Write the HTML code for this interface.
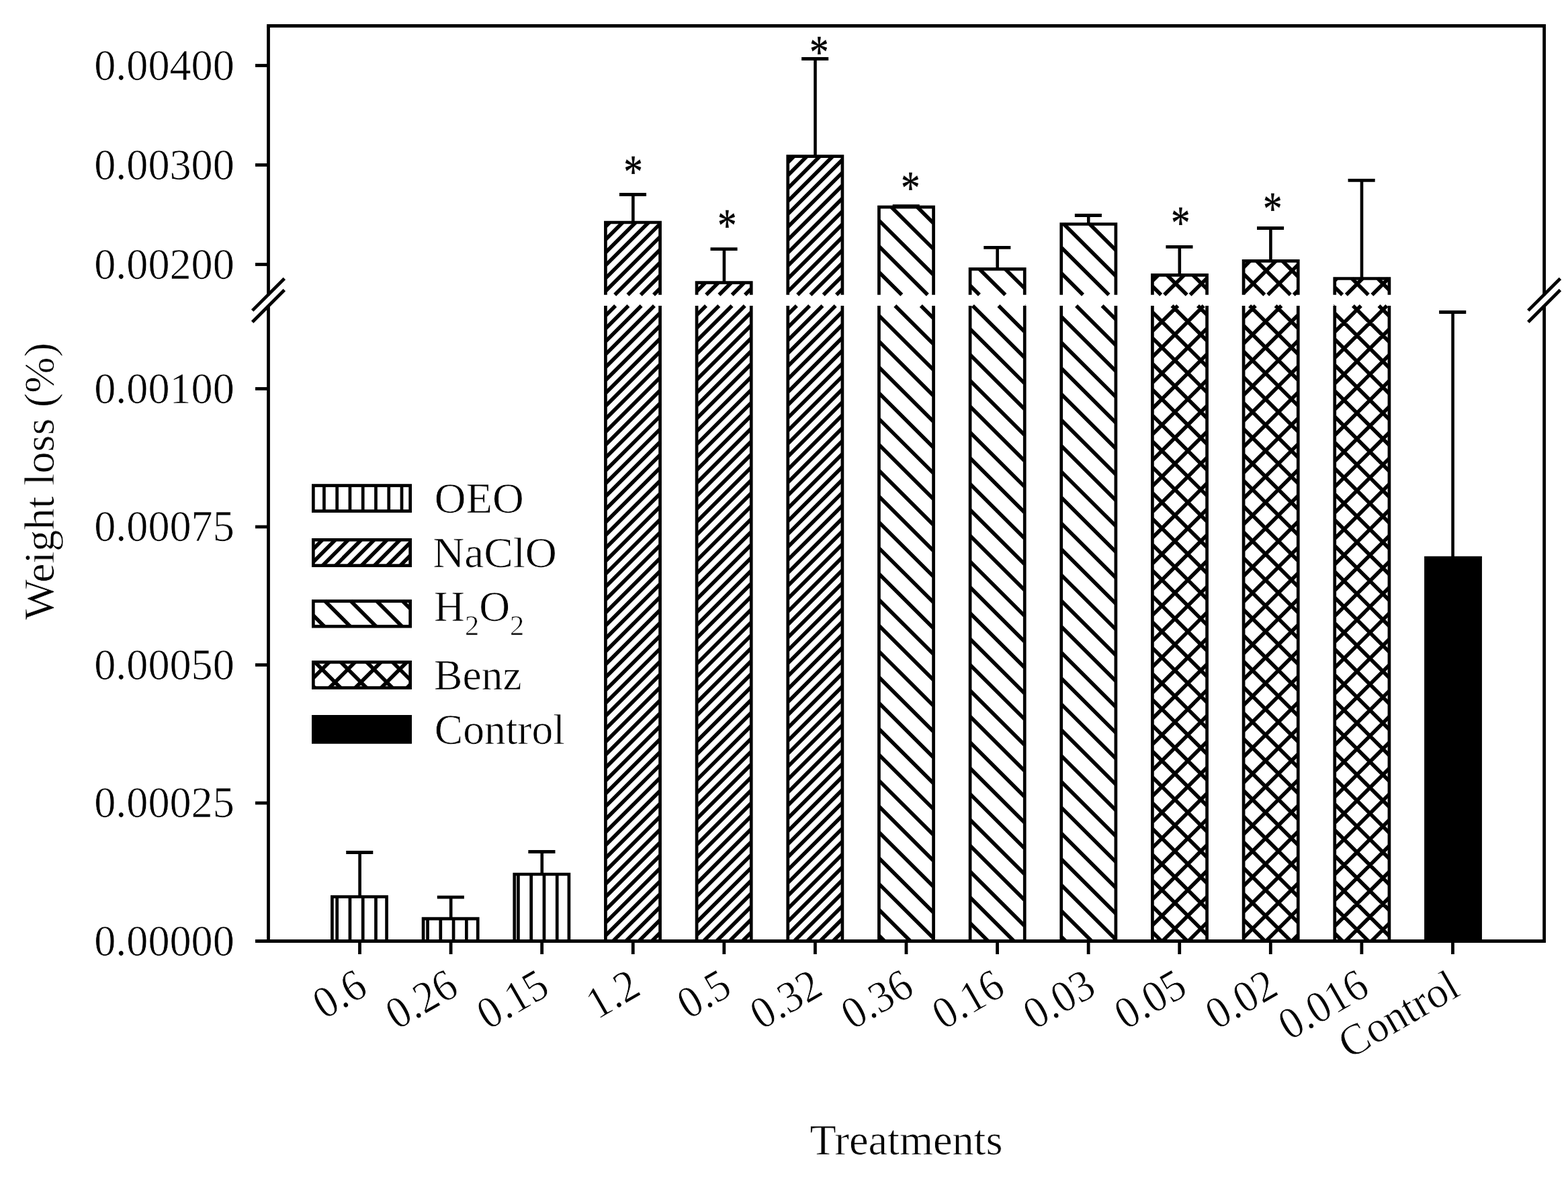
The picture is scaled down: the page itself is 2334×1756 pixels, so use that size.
<!DOCTYPE html>
<html lang="en"><head><meta charset="utf-8"><title>Weight loss (%) by treatment</title>
<style>html,body{margin:0;padding:0;background:#fff}body{width:2334px;height:1756px;overflow:hidden}svg{display:block}text{font-family:'Liberation Serif', 'Times New Roman', Times, serif;fill:#000;stroke:#fff;stroke-width:0.7px}</style>
</head><body>
<svg width="2334" height="1756" viewBox="0 0 2334 1756" role="img" aria-label="Bar chart of weight loss (%) by treatment">
<rect x="0" y="0" width="2334" height="1756" fill="#fff"/>
<g id="bars">
<path d="M501.67 1334.5L501.67 1400.5M520.93 1334.5L520.93 1400.5M540.2 1334.5L540.2 1400.5M559.47 1334.5L559.47 1400.5" fill="none" stroke="#000" stroke-width="4.7" stroke-linecap="butt"/>
<path d="M494.4 1400.5V1334.5H575.56V1400.5" fill="none" stroke="#000" stroke-width="4.7" stroke-linejoin="miter"/>
<path d="M535.6 1334.5V1268.5" fill="none" stroke="#000" stroke-width="4.6"/><path d="M515.2 1268.5H555.3" fill="none" stroke="#000" stroke-width="4.8"/>
<path d="M636.54 1367.2L636.54 1400.5M655.8 1367.2L655.8 1400.5M675.07 1367.2L675.07 1400.5M694.34 1367.2L694.34 1400.5" fill="none" stroke="#000" stroke-width="4.7" stroke-linecap="butt"/>
<path d="M630.07 1400.5V1367.2H711.23V1400.5" fill="none" stroke="#000" stroke-width="4.7" stroke-linejoin="miter"/>
<path d="M671.18 1367.2V1335.2" fill="none" stroke="#000" stroke-width="4.6"/><path d="M650.78 1335.2H690.88" fill="none" stroke="#000" stroke-width="4.8"/>
<path d="M771.4 1301L771.4 1400.5M790.67 1301L790.67 1400.5M809.94 1301L809.94 1400.5M829.21 1301L829.21 1400.5" fill="none" stroke="#000" stroke-width="4.7" stroke-linecap="butt"/>
<path d="M765.74 1400.5V1301H846.9V1400.5" fill="none" stroke="#000" stroke-width="4.7" stroke-linejoin="miter"/>
<path d="M806.76 1301V1267.5" fill="none" stroke="#000" stroke-width="4.6"/><path d="M786.36 1267.5H826.46" fill="none" stroke="#000" stroke-width="4.8"/>
<path d="M901.4 469.69L916.13 455M901.4 488.91L935.4 455M901.4 508.13L954.66 455M901.4 527.36L973.93 455M901.4 546.58L982.56 465.61M901.4 565.8L982.56 484.83M901.4 585.02L982.56 504.05M901.4 604.24L982.56 523.27M901.4 623.47L982.56 542.5M901.4 642.69L982.56 561.72M901.4 661.91L982.56 580.94M901.4 681.13L982.56 600.16M901.4 700.35L982.56 619.38M901.4 719.58L982.56 638.61M901.4 738.8L982.56 657.83M901.4 758.02L982.56 677.05M901.4 777.24L982.56 696.27M901.4 796.46L982.56 715.49M901.4 815.69L982.56 734.72M901.4 834.91L982.56 753.94M901.4 854.13L982.56 773.16M901.4 873.35L982.56 792.38M901.4 892.57L982.56 811.6M901.4 911.8L982.56 830.83M901.4 931.02L982.56 850.05M901.4 950.24L982.56 869.27M901.4 969.46L982.56 888.49M901.4 988.68L982.56 907.71M901.4 1007.91L982.56 926.94M901.4 1027.13L982.56 946.16M901.4 1046.35L982.56 965.38M901.4 1065.57L982.56 984.6M901.4 1084.79L982.56 1003.82M901.4 1104.02L982.56 1023.05M901.4 1123.24L982.56 1042.27M901.4 1142.46L982.56 1061.49M901.4 1161.68L982.56 1080.71M901.4 1180.9L982.56 1099.93M901.4 1200.13L982.56 1119.16M901.4 1219.35L982.56 1138.38M901.4 1238.57L982.56 1157.6M901.4 1257.79L982.56 1176.82M901.4 1277.01L982.56 1196.04M901.4 1296.24L982.56 1215.27M901.4 1315.46L982.56 1234.49M901.4 1334.68L982.56 1253.71M901.4 1353.9L982.56 1272.93M901.4 1373.12L982.56 1292.15M901.4 1392.35L982.56 1311.38M912.5 1400.5L982.56 1330.6M931.76 1400.5L982.56 1349.82M951.03 1400.5L982.56 1369.04M970.3 1400.5L982.56 1388.26" fill="none" stroke="#000" stroke-width="5.6" stroke-linecap="butt"/>
<path d="M901.4 337.22L907.64 331M901.4 356.44L926.9 331M901.4 375.66L946.17 331M901.4 394.88L965.44 331M901.4 414.11L982.56 333.14M901.4 433.33L982.56 352.36M915.19 438.8L982.56 371.58M934.45 438.8L982.56 390.8M953.72 438.8L982.56 410.02M972.99 438.8L982.56 429.25" fill="none" stroke="#000" stroke-width="5.6" stroke-linecap="butt"/>
<path d="M901.4 1400.5V455M982.56 1400.5V455" fill="none" stroke="#000" stroke-width="4.7"/>
<path d="M901.4 438.8V331H982.56V438.8" fill="none" stroke="#000" stroke-width="4.7" stroke-linejoin="miter"/>
<path d="M942.34 331V289.5" fill="none" stroke="#000" stroke-width="4.6"/><path d="M921.94 289.5H962.04" fill="none" stroke="#000" stroke-width="4.8"/>
<path d="M1037.07 468.89L1051 455M1037.07 488.11L1070.26 455M1037.07 507.34L1089.53 455M1037.07 526.56L1108.8 455M1037.07 545.78L1118.23 464.81M1037.07 565L1118.23 484.03M1037.07 584.22L1118.23 503.25M1037.07 603.45L1118.23 522.48M1037.07 622.67L1118.23 541.7M1037.07 641.89L1118.23 560.92M1037.07 661.11L1118.23 580.14M1037.07 680.33L1118.23 599.36M1037.07 699.56L1118.23 618.59M1037.07 718.78L1118.23 637.81M1037.07 738L1118.23 657.03M1037.07 757.22L1118.23 676.25M1037.07 776.44L1118.23 695.47M1037.07 795.67L1118.23 714.7M1037.07 814.89L1118.23 733.92M1037.07 834.11L1118.23 753.14M1037.07 853.33L1118.23 772.36M1037.07 872.55L1118.23 791.58M1037.07 891.78L1118.23 810.81M1037.07 911L1118.23 830.03M1037.07 930.22L1118.23 849.25M1037.07 949.44L1118.23 868.47M1037.07 968.66L1118.23 887.69M1037.07 987.89L1118.23 906.92M1037.07 1007.11L1118.23 926.14M1037.07 1026.33L1118.23 945.36M1037.07 1045.55L1118.23 964.58M1037.07 1064.77L1118.23 983.8M1037.07 1084L1118.23 1003.03M1037.07 1103.22L1118.23 1022.25M1037.07 1122.44L1118.23 1041.47M1037.07 1141.66L1118.23 1060.69M1037.07 1160.88L1118.23 1079.91M1037.07 1180.11L1118.23 1099.14M1037.07 1199.33L1118.23 1118.36M1037.07 1218.55L1118.23 1137.58M1037.07 1237.77L1118.23 1156.8M1037.07 1256.99L1118.23 1176.02M1037.07 1276.22L1118.23 1195.25M1037.07 1295.44L1118.23 1214.47M1037.07 1314.66L1118.23 1233.69M1037.07 1333.88L1118.23 1252.91M1037.07 1353.1L1118.23 1272.13M1037.07 1372.33L1118.23 1291.36M1037.07 1391.55L1118.23 1310.58M1047.37 1400.5L1118.23 1329.8M1066.63 1400.5L1118.23 1349.02M1085.9 1400.5L1118.23 1368.24M1105.17 1400.5L1118.23 1387.47" fill="none" stroke="#000" stroke-width="5.6" stroke-linecap="butt"/>
<path d="M1037.07 433.62L1050.12 420.6M1051.15 438.8L1069.39 420.6M1070.42 438.8L1088.66 420.6M1089.68 438.8L1107.92 420.6M1108.95 438.8L1118.23 429.54" fill="none" stroke="#000" stroke-width="5.6" stroke-linecap="butt"/>
<path d="M1037.07 1400.5V455M1118.23 1400.5V455" fill="none" stroke="#000" stroke-width="4.7"/>
<path d="M1037.07 438.8V420.6H1118.23V438.8" fill="none" stroke="#000" stroke-width="4.7" stroke-linejoin="miter"/>
<path d="M1077.92 420.6V370.6" fill="none" stroke="#000" stroke-width="4.6"/><path d="M1057.52 370.6H1097.62" fill="none" stroke="#000" stroke-width="4.8"/>
<path d="M1172.74 468.1L1185.87 455M1172.74 487.32L1205.13 455M1172.74 506.54L1224.4 455M1172.74 525.76L1243.67 455M1172.74 544.98L1253.9 464.01M1172.74 564.21L1253.9 483.24M1172.74 583.43L1253.9 502.46M1172.74 602.65L1253.9 521.68M1172.74 621.87L1253.9 540.9M1172.74 641.09L1253.9 560.12M1172.74 660.32L1253.9 579.35M1172.74 679.54L1253.9 598.57M1172.74 698.76L1253.9 617.79M1172.74 717.98L1253.9 637.01M1172.74 737.2L1253.9 656.23M1172.74 756.43L1253.9 675.46M1172.74 775.65L1253.9 694.68M1172.74 794.87L1253.9 713.9M1172.74 814.09L1253.9 733.12M1172.74 833.31L1253.9 752.34M1172.74 852.54L1253.9 771.57M1172.74 871.76L1253.9 790.79M1172.74 890.98L1253.9 810.01M1172.74 910.2L1253.9 829.23M1172.74 929.42L1253.9 848.45M1172.74 948.65L1253.9 867.68M1172.74 967.87L1253.9 886.9M1172.74 987.09L1253.9 906.12M1172.74 1006.31L1253.9 925.34M1172.74 1025.53L1253.9 944.56M1172.74 1044.76L1253.9 963.79M1172.74 1063.98L1253.9 983.01M1172.74 1083.2L1253.9 1002.23M1172.74 1102.42L1253.9 1021.45M1172.74 1121.64L1253.9 1040.67M1172.74 1140.87L1253.9 1059.9M1172.74 1160.09L1253.9 1079.12M1172.74 1179.31L1253.9 1098.34M1172.74 1198.53L1253.9 1117.56M1172.74 1217.75L1253.9 1136.78M1172.74 1236.98L1253.9 1156.01M1172.74 1256.2L1253.9 1175.23M1172.74 1275.42L1253.9 1194.45M1172.74 1294.64L1253.9 1213.67M1172.74 1313.86L1253.9 1232.89M1172.74 1333.09L1253.9 1252.12M1172.74 1352.31L1253.9 1271.34M1172.74 1371.53L1253.9 1290.56M1172.74 1390.75L1253.9 1309.78M1182.24 1400.5L1253.9 1329M1201.5 1400.5L1253.9 1348.23M1220.77 1400.5L1253.9 1367.45M1240.04 1400.5L1253.9 1386.67" fill="none" stroke="#000" stroke-width="5.6" stroke-linecap="butt"/>
<path d="M1172.74 241.74L1181.9 232.6M1172.74 260.97L1201.17 232.6M1172.74 280.19L1220.44 232.6M1172.74 299.41L1239.71 232.6M1172.74 318.63L1253.9 237.66M1172.74 337.85L1253.9 256.88M1172.74 357.08L1253.9 276.1M1172.74 376.3L1253.9 295.33M1172.74 395.52L1253.9 314.55M1172.74 414.74L1253.9 333.77M1172.74 433.96L1253.9 352.99M1187.16 438.8L1253.9 372.21M1206.43 438.8L1253.9 391.44M1225.69 438.8L1253.9 410.66M1244.96 438.8L1253.9 429.88" fill="none" stroke="#000" stroke-width="5.6" stroke-linecap="butt"/>
<path d="M1172.74 1400.5V455M1253.9 1400.5V455" fill="none" stroke="#000" stroke-width="4.7"/>
<path d="M1172.74 438.8V232.6H1253.9V438.8" fill="none" stroke="#000" stroke-width="4.7" stroke-linejoin="miter"/>
<path d="M1213.5 232.6V87.5" fill="none" stroke="#000" stroke-width="4.6"/><path d="M1193.1 87.5H1233.2" fill="none" stroke="#000" stroke-width="4.8"/>
<path d="M1370.83 455L1389.57 473.7M1332.29 455L1389.57 512.14M1308.41 469.61L1389.57 550.58M1308.41 508.06L1389.57 589.03M1308.41 546.5L1389.57 627.47M1308.41 584.95L1389.57 665.92M1308.41 623.39L1389.57 704.36M1308.41 661.83L1389.57 742.8M1308.41 700.28L1389.57 781.25M1308.41 738.72L1389.57 819.69M1308.41 777.17L1389.57 858.14M1308.41 815.61L1389.57 896.58M1308.41 854.05L1389.57 935.02M1308.41 892.5L1389.57 973.47M1308.41 930.94L1389.57 1011.91M1308.41 969.39L1389.57 1050.36M1308.41 1007.83L1389.57 1088.8M1308.41 1046.27L1389.57 1127.24M1308.41 1084.72L1389.57 1165.69M1308.41 1123.16L1389.57 1204.13M1308.41 1161.61L1389.57 1242.58M1308.41 1200.05L1389.57 1281.02M1308.41 1238.49L1389.57 1319.46M1308.41 1276.94L1389.57 1357.91M1308.41 1315.38L1389.57 1396.35M1308.41 1353.83L1355.19 1400.5M1308.41 1392.27L1316.66 1400.5" fill="none" stroke="#000" stroke-width="5.6" stroke-linecap="butt"/>
<path d="M1365.52 308.2L1389.57 332.2M1326.98 308.2L1389.57 370.64M1308.41 328.11L1389.57 409.08M1308.41 366.56L1380.82 438.8M1308.41 405L1342.29 438.8" fill="none" stroke="#000" stroke-width="5.6" stroke-linecap="butt"/>
<path d="M1308.41 1400.5V455M1389.57 1400.5V455" fill="none" stroke="#000" stroke-width="4.7"/>
<path d="M1308.41 438.8V308.2H1389.57V438.8" fill="none" stroke="#000" stroke-width="4.7" stroke-linejoin="miter"/>
<path d="M1349.08 308.2V306.6" fill="none" stroke="#000" stroke-width="4.6"/><path d="M1328.68 306.6H1368.78" fill="none" stroke="#000" stroke-width="4.8"/>
<path d="M1524.96 455L1525.24 455.27M1486.43 455L1525.24 493.72M1447.9 455L1525.24 532.16M1444.08 489.63L1525.24 570.6M1444.08 528.08L1525.24 609.05M1444.08 566.52L1525.24 647.49M1444.08 604.97L1525.24 685.94M1444.08 643.41L1525.24 724.38M1444.08 681.85L1525.24 762.82M1444.08 720.3L1525.24 801.27M1444.08 758.74L1525.24 839.71M1444.08 797.19L1525.24 878.16M1444.08 835.63L1525.24 916.6M1444.08 874.07L1525.24 955.04M1444.08 912.52L1525.24 993.49M1444.08 950.96L1525.24 1031.93M1444.08 989.41L1525.24 1070.38M1444.08 1027.85L1525.24 1108.82M1444.08 1066.29L1525.24 1147.26M1444.08 1104.74L1525.24 1185.71M1444.08 1143.18L1525.24 1224.15M1444.08 1181.63L1525.24 1262.6M1444.08 1220.07L1525.24 1301.04M1444.08 1258.51L1525.24 1339.48M1444.08 1296.96L1525.24 1377.93M1444.08 1335.4L1509.33 1400.5M1444.08 1373.85L1470.79 1400.5" fill="none" stroke="#000" stroke-width="5.6" stroke-linecap="butt"/>
<path d="M1496.47 400.4L1525.24 429.1M1457.93 400.4L1496.42 438.8M1444.08 425.02L1457.89 438.8" fill="none" stroke="#000" stroke-width="5.6" stroke-linecap="butt"/>
<path d="M1444.08 1400.5V455M1525.24 1400.5V455" fill="none" stroke="#000" stroke-width="4.7"/>
<path d="M1444.08 438.8V400.4H1525.24V438.8" fill="none" stroke="#000" stroke-width="4.7" stroke-linejoin="miter"/>
<path d="M1484.66 400.4V368.4" fill="none" stroke="#000" stroke-width="4.6"/><path d="M1464.26 368.4H1504.36" fill="none" stroke="#000" stroke-width="4.8"/>
<path d="M1640.57 455L1660.9 475.29M1602.03 455L1660.9 513.73M1579.74 471.21L1660.9 552.18M1579.74 509.65L1660.9 590.62M1579.74 548.1L1660.9 629.07M1579.74 586.54L1660.9 667.51M1579.74 624.98L1660.9 705.95M1579.74 663.43L1660.9 744.4M1579.74 701.87L1660.9 782.84M1579.74 740.32L1660.9 821.29M1579.74 778.76L1660.9 859.73M1579.74 817.2L1660.9 898.17M1579.74 855.65L1660.9 936.62M1579.74 894.09L1660.9 975.06M1579.74 932.54L1660.9 1013.51M1579.74 970.98L1660.9 1051.95M1579.74 1009.42L1660.9 1090.39M1579.74 1047.87L1660.9 1128.84M1579.74 1086.31L1660.9 1167.28M1579.74 1124.76L1660.9 1205.73M1579.74 1163.2L1660.9 1244.17M1579.74 1201.64L1660.9 1282.61M1579.74 1240.09L1660.9 1321.06M1579.74 1278.53L1660.9 1359.5M1579.74 1316.98L1660.9 1397.95M1579.74 1355.42L1624.93 1400.5M1579.74 1393.86L1586.4 1400.5" fill="none" stroke="#000" stroke-width="5.6" stroke-linecap="butt"/>
<path d="M1660.61 333.5L1660.9 333.79M1622.08 333.5L1660.9 372.23M1583.54 333.5L1660.9 410.68M1579.74 368.15L1650.56 438.8M1579.74 406.6L1612.02 438.8" fill="none" stroke="#000" stroke-width="5.6" stroke-linecap="butt"/>
<path d="M1579.74 1400.5V455M1660.9 1400.5V455" fill="none" stroke="#000" stroke-width="4.7"/>
<path d="M1579.74 438.8V333.5H1660.9V438.8" fill="none" stroke="#000" stroke-width="4.7" stroke-linejoin="miter"/>
<path d="M1620.24 333.5V320.5" fill="none" stroke="#000" stroke-width="4.6"/><path d="M1599.84 320.5H1639.94" fill="none" stroke="#000" stroke-width="4.8"/>
<path d="M1783.01 455L1796.57 468.53M1744.48 455L1796.57 506.97M1715.41 464.45L1796.57 545.42M1715.41 502.89L1796.57 583.86M1715.41 541.33L1796.57 622.3M1715.41 579.78L1796.57 660.75M1715.41 618.22L1796.57 699.19M1715.41 656.67L1796.57 737.64M1715.41 695.11L1796.57 776.08M1715.41 733.55L1796.57 814.52M1715.41 772L1796.57 852.97M1715.41 810.44L1796.57 891.41M1715.41 848.89L1796.57 929.86M1715.41 887.33L1796.57 968.3M1715.41 925.77L1796.57 1006.74M1715.41 964.22L1796.57 1045.19M1715.41 1002.66L1796.57 1083.63M1715.41 1041.11L1796.57 1122.08M1715.41 1079.55L1796.57 1160.52M1715.41 1117.99L1796.57 1198.96M1715.41 1156.44L1796.57 1237.41M1715.41 1194.88L1796.57 1275.85M1715.41 1233.33L1796.57 1314.3M1715.41 1271.77L1796.57 1352.74M1715.41 1310.21L1796.57 1391.18M1715.41 1348.66L1767.38 1400.5M1715.41 1387.1L1728.84 1400.5M1715.41 492.75L1753.26 455M1715.41 531.2L1791.79 455M1715.41 569.64L1796.57 488.67M1715.41 608.09L1796.57 527.12M1715.41 646.53L1796.57 565.56M1715.41 684.97L1796.57 604M1715.41 723.42L1796.57 642.45M1715.41 761.86L1796.57 680.89M1715.41 800.31L1796.57 719.34M1715.41 838.75L1796.57 757.78M1715.41 877.19L1796.57 796.22M1715.41 915.64L1796.57 834.67M1715.41 954.08L1796.57 873.11M1715.41 992.53L1796.57 911.56M1715.41 1030.97L1796.57 950M1715.41 1069.41L1796.57 988.44M1715.41 1107.86L1796.57 1026.89M1715.41 1146.3L1796.57 1065.33M1715.41 1184.75L1796.57 1103.78M1715.41 1223.19L1796.57 1142.22M1715.41 1261.63L1796.57 1180.66M1715.41 1300.08L1796.57 1219.11M1715.41 1338.52L1796.57 1257.55M1715.41 1376.97L1796.57 1296M1730.36 1400.5L1796.57 1334.44M1768.89 1400.5L1796.57 1372.88" fill="none" stroke="#000" stroke-width="5.6" stroke-linecap="butt"/>
<path d="M1775.8 409.4L1796.57 430.12M1737.27 409.4L1766.74 438.8M1715.41 426.04L1728.21 438.8M1715.41 417.96L1724 409.4M1733.06 438.8L1762.53 409.4M1771.59 438.8L1796.57 413.88" fill="none" stroke="#000" stroke-width="5.6" stroke-linecap="butt"/>
<path d="M1715.41 1400.5V455M1796.57 1400.5V455" fill="none" stroke="#000" stroke-width="4.7"/>
<path d="M1715.41 438.8V409.4H1796.57V438.8" fill="none" stroke="#000" stroke-width="4.7" stroke-linejoin="miter"/>
<path d="M1755.82 409.4V367.3" fill="none" stroke="#000" stroke-width="4.6"/><path d="M1735.42 367.3H1775.52" fill="none" stroke="#000" stroke-width="4.8"/>
<path d="M1898.61 455L1932.24 488.55M1860.08 455L1932.24 526.99M1851.08 484.46L1932.24 565.43M1851.08 522.91L1932.24 603.88M1851.08 561.35L1932.24 642.32M1851.08 599.8L1932.24 680.77M1851.08 638.24L1932.24 719.21M1851.08 676.68L1932.24 757.65M1851.08 715.13L1932.24 796.1M1851.08 753.57L1932.24 834.54M1851.08 792.02L1932.24 872.99M1851.08 830.46L1932.24 911.43M1851.08 868.9L1932.24 949.87M1851.08 907.35L1932.24 988.32M1851.08 945.79L1932.24 1026.76M1851.08 984.24L1932.24 1065.21M1851.08 1022.68L1932.24 1103.65M1851.08 1061.12L1932.24 1142.09M1851.08 1099.57L1932.24 1180.54M1851.08 1138.01L1932.24 1218.98M1851.08 1176.46L1932.24 1257.43M1851.08 1214.9L1932.24 1295.87M1851.08 1253.34L1932.24 1334.31M1851.08 1291.79L1932.24 1372.76M1851.08 1330.23L1921.51 1400.5M1851.08 1368.68L1882.98 1400.5M1851.08 472.74L1868.86 455M1851.08 511.18L1907.39 455M1851.08 549.62L1932.24 468.65M1851.08 588.07L1932.24 507.1M1851.08 626.51L1932.24 545.54M1851.08 664.96L1932.24 583.99M1851.08 703.4L1932.24 622.43M1851.08 741.84L1932.24 660.87M1851.08 780.29L1932.24 699.32M1851.08 818.73L1932.24 737.76M1851.08 857.18L1932.24 776.21M1851.08 895.62L1932.24 814.65M1851.08 934.06L1932.24 853.09M1851.08 972.51L1932.24 891.54M1851.08 1010.95L1932.24 929.98M1851.08 1049.4L1932.24 968.43M1851.08 1087.84L1932.24 1006.87M1851.08 1126.28L1932.24 1045.31M1851.08 1164.73L1932.24 1083.76M1851.08 1203.17L1932.24 1122.2M1851.08 1241.62L1932.24 1160.65M1851.08 1280.06L1932.24 1199.09M1851.08 1318.5L1932.24 1237.53M1851.08 1356.95L1932.24 1275.98M1851.08 1395.39L1932.24 1314.42M1884.49 1400.5L1932.24 1352.87M1923.03 1400.5L1932.24 1391.31" fill="none" stroke="#000" stroke-width="5.6" stroke-linecap="butt"/>
<path d="M1908.79 388.3L1932.24 411.69M1870.26 388.3L1920.88 438.8M1851.08 407.61L1882.34 438.8M1851.08 397.94L1860.75 388.3M1851.08 436.39L1899.28 388.3M1887.2 438.8L1932.24 393.86M1925.73 438.8L1932.24 432.31" fill="none" stroke="#000" stroke-width="5.6" stroke-linecap="butt"/>
<path d="M1851.08 1400.5V455M1932.24 1400.5V455" fill="none" stroke="#000" stroke-width="4.7"/>
<path d="M1851.08 438.8V388.3H1932.24V438.8" fill="none" stroke="#000" stroke-width="4.7" stroke-linejoin="miter"/>
<path d="M1891.4 388.3V339.5" fill="none" stroke="#000" stroke-width="4.6"/><path d="M1871 339.5H1911.1" fill="none" stroke="#000" stroke-width="4.8"/>
<path d="M2052.51 455L2067.91 470.36M2013.98 455L2067.91 508.8M1986.75 466.28L2067.91 547.25M1986.75 504.72L2067.91 585.69M1986.75 543.16L2067.91 624.13M1986.75 581.61L2067.91 662.58M1986.75 620.05L2067.91 701.02M1986.75 658.5L2067.91 739.47M1986.75 696.94L2067.91 777.91M1986.75 735.38L2067.91 816.35M1986.75 773.83L2067.91 854.8M1986.75 812.27L2067.91 893.24M1986.75 850.72L2067.91 931.69M1986.75 889.16L2067.91 970.13M1986.75 927.6L2067.91 1008.57M1986.75 966.05L2067.91 1047.02M1986.75 1004.49L2067.91 1085.46M1986.75 1042.94L2067.91 1123.91M1986.75 1081.38L2067.91 1162.35M1986.75 1119.82L2067.91 1200.79M1986.75 1158.27L2067.91 1239.24M1986.75 1196.71L2067.91 1277.68M1986.75 1235.16L2067.91 1316.13M1986.75 1273.6L2067.91 1354.57M1986.75 1312.04L2067.91 1393.01M1986.75 1350.49L2036.88 1400.5M1986.75 1388.93L1998.34 1400.5M1986.75 455.54L1987.29 455M1986.75 493.98L2025.82 455M1986.75 532.42L2064.35 455M1986.75 570.87L2067.91 489.9M1986.75 609.31L2067.91 528.34M1986.75 647.76L2067.91 566.79M1986.75 686.2L2067.91 605.23M1986.75 724.64L2067.91 643.67M1986.75 763.09L2067.91 682.12M1986.75 801.53L2067.91 720.56M1986.75 839.98L2067.91 759.01M1986.75 878.42L2067.91 797.45M1986.75 916.86L2067.91 835.89M1986.75 955.31L2067.91 874.34M1986.75 993.75L2067.91 912.78M1986.75 1032.2L2067.91 951.23M1986.75 1070.64L2067.91 989.67M1986.75 1109.08L2067.91 1028.11M1986.75 1147.53L2067.91 1066.56M1986.75 1185.97L2067.91 1105M1986.75 1224.42L2067.91 1143.45M1986.75 1262.86L2067.91 1181.89M1986.75 1301.3L2067.91 1220.33M1986.75 1339.75L2067.91 1258.78M1986.75 1378.19L2067.91 1297.22M2002.92 1400.5L2067.91 1335.67M2041.46 1400.5L2067.91 1374.11" fill="none" stroke="#000" stroke-width="5.6" stroke-linecap="butt"/>
<path d="M2050.92 414.5L2067.91 431.45M2012.38 414.5L2036.74 438.8M1986.75 427.37L1998.2 438.8M1986.75 417.43L1989.68 414.5M2003.86 438.8L2028.22 414.5M2042.4 438.8L2066.75 414.5" fill="none" stroke="#000" stroke-width="5.6" stroke-linecap="butt"/>
<path d="M1986.75 1400.5V455M2067.91 1400.5V455" fill="none" stroke="#000" stroke-width="4.7"/>
<path d="M1986.75 438.8V414.5H2067.91V438.8" fill="none" stroke="#000" stroke-width="4.7" stroke-linejoin="miter"/>
<path d="M2026.98 414.5V268.4" fill="none" stroke="#000" stroke-width="4.6"/><path d="M2006.58 268.4H2046.68" fill="none" stroke="#000" stroke-width="4.8"/>
<rect x="2120.07" y="827.8" width="85.86" height="572.7" fill="#000"/>
<path d="M2162.56 830.2V464.5" fill="none" stroke="#000" stroke-width="4.6"/><path d="M2142.16 464.5H2182.26" fill="none" stroke="#000" stroke-width="4.8"/>
</g>
<g id="axes" fill="none" stroke="#000" stroke-width="4.8">
<path d="M397.1 38.5H2301"/>
<path d="M380 1400.5H2301"/>
<path d="M399.5 38.5V439.8M399.5 453.9V1400.5"/>
<path d="M375.65 462.15L423.35 414.45M375.65 479.25L423.35 431.55"/>
<path d="M2298.6 38.5V439.8M2298.6 453.9V1400.5"/>
<path d="M2274.75 462.15L2322.45 414.45M2274.75 479.25L2322.45 431.55"/>
<path d="M380 97.5H399.5"/>
<path d="M380 245.5H399.5"/>
<path d="M380 393.5H399.5"/>
<path d="M380 578.5H399.5"/>
<path d="M380 784H399.5"/>
<path d="M380 989.5H399.5"/>
<path d="M380 1195H399.5"/>
<path d="M535.5 1400.5V1420"/>
<path d="M671.08 1400.5V1420"/>
<path d="M806.66 1400.5V1420"/>
<path d="M942.24 1400.5V1420"/>
<path d="M1077.82 1400.5V1420"/>
<path d="M1213.4 1400.5V1420"/>
<path d="M1348.98 1400.5V1420"/>
<path d="M1484.56 1400.5V1420"/>
<path d="M1620.14 1400.5V1420"/>
<path d="M1755.72 1400.5V1420"/>
<path d="M1891.3 1400.5V1420"/>
<path d="M2026.88 1400.5V1420"/>
<path d="M2162.46 1400.5V1420"/>
</g>
<g id="ylabels" font-size="65.4" text-anchor="end">
<text transform="translate(348.8 118.9) scale(0.982 1)">0.00400</text>
<text transform="translate(348.8 266.9) scale(0.982 1)">0.00300</text>
<text transform="translate(348.8 414.9) scale(0.982 1)">0.00200</text>
<text transform="translate(348.8 599.9) scale(0.982 1)">0.00100</text>
<text transform="translate(348.8 805.4) scale(0.982 1)">0.00075</text>
<text transform="translate(348.8 1010.9) scale(0.982 1)">0.00050</text>
<text transform="translate(348.8 1216.4) scale(0.982 1)">0.00025</text>
<text transform="translate(348.8 1421.9) scale(0.982 1)">0.00000</text>
</g>
<g id="xlabels" font-size="63.5" text-anchor="end">
<text transform="translate(550 1478.6) rotate(-30) scale(0.985 1.05)">0.6</text>
<text transform="translate(685.58 1478.6) rotate(-30) scale(0.985 1.05)">0.26</text>
<text transform="translate(821.16 1478.6) rotate(-30) scale(0.985 1.05)">0.15</text>
<text transform="translate(956.74 1478.6) rotate(-30) scale(0.985 1.05)">1.2</text>
<text transform="translate(1092.32 1478.6) rotate(-30) scale(0.985 1.05)">0.5</text>
<text transform="translate(1227.9 1478.6) rotate(-30) scale(0.985 1.05)">0.32</text>
<text transform="translate(1363.48 1478.6) rotate(-30) scale(0.985 1.05)">0.36</text>
<text transform="translate(1499.06 1478.6) rotate(-30) scale(0.985 1.05)">0.16</text>
<text transform="translate(1634.64 1478.6) rotate(-30) scale(0.985 1.05)">0.03</text>
<text transform="translate(1770.22 1478.6) rotate(-30) scale(0.985 1.05)">0.05</text>
<text transform="translate(1905.8 1478.6) rotate(-30) scale(0.985 1.05)">0.02</text>
<text transform="translate(2041.38 1478.6) rotate(-30) scale(0.985 1.05)">0.016</text>
<text transform="translate(2176.46 1479.8) rotate(-30) scale(1 1.03)">Control</text>
</g>
<text font-size="64.3" text-anchor="middle" transform="translate(79.6 716.3) rotate(-90)">Weight loss (%)</text>
<text font-size="64" text-anchor="middle" transform="translate(1349 1718.4) scale(1.005 1)">Treatments</text>
<g id="stars" font-size="63.5" text-anchor="middle">
<text transform="translate(942.5 246) scale(0.9 1.115)" y="29.3" style="stroke:#000;stroke-width:0.4px">*</text>
<text transform="translate(1082.4 326) scale(0.9 1.115)" y="29.3" style="stroke:#000;stroke-width:0.4px">*</text>
<text transform="translate(1219.3 68) scale(0.9 1.115)" y="29.3" style="stroke:#000;stroke-width:0.4px">*</text>
<text transform="translate(1355.3 270) scale(0.9 1.115)" y="29.3" style="stroke:#000;stroke-width:0.4px">*</text>
<text transform="translate(1757.4 322) scale(0.9 1.115)" y="29.3" style="stroke:#000;stroke-width:0.4px">*</text>
<text transform="translate(1894.4 301.8) scale(0.9 1.115)" y="29.3" style="stroke:#000;stroke-width:0.4px">*</text>
</g>
<g id="legend">
<path d="M482.4 722.55L482.4 760.55M501.67 722.55L501.67 760.55M520.93 722.55L520.93 760.55M540.2 722.55L540.2 760.55M559.47 722.55L559.47 760.55M578.74 722.55L578.74 760.55M598 722.55L598 760.55" fill="none" stroke="#000" stroke-width="4.7" stroke-linecap="butt"/>
<rect x="466.35" y="722.55" width="144.3" height="38" fill="none" stroke="#000" stroke-width="4.7"/>
<text font-size="63.5" transform="translate(646.8 763.1) scale(1.02 1)">OEO</text>
<path d="M466.35 816.97L480 803.35M466.35 836.19L499.27 803.35M480.14 841.65L518.53 803.35M499.41 841.65L537.8 803.35M518.68 841.65L557.07 803.35M537.95 841.65L576.33 803.35M557.21 841.65L595.6 803.35M576.48 841.65L610.65 807.56M595.75 841.65L610.65 826.78" fill="none" stroke="#000" stroke-width="5.6" stroke-linecap="butt"/>
<rect x="466.35" y="803.35" width="144.3" height="38.3" fill="none" stroke="#000" stroke-width="4.7"/>
<text font-size="63.5" transform="translate(644.2 844.2) scale(1.027 1)">NaClO</text>
<path d="M599.3 894.55L610.65 905.87M560.77 894.55L598.46 932.15M522.24 894.55L559.92 932.15M483.7 894.55L521.39 932.15M466.35 915.68L482.86 932.15" fill="none" stroke="#000" stroke-width="5.6" stroke-linecap="butt"/>
<rect x="466.35" y="894.55" width="144.3" height="37.6" fill="none" stroke="#000" stroke-width="4.7"/>
<text font-size="63.5" x="646.1" y="923.8">H<tspan font-size="42.55" dy="21">2</tspan><tspan dy="-21">O</tspan><tspan font-size="42.55" dy="21">2</tspan></text>
<path d="M584.33 985.35L610.65 1011.61M545.79 985.35L584.08 1023.55M507.26 985.35L545.55 1023.55M468.73 985.35L507.01 1023.55M466.35 1021.42L468.48 1023.55M466.35 1009.02L490.07 985.35M490.32 1023.55L528.61 985.35M528.85 1023.55L567.14 985.35M567.39 1023.55L605.68 985.35M605.92 1023.55L610.65 1018.83" fill="none" stroke="#000" stroke-width="5.6" stroke-linecap="butt"/>
<rect x="466.35" y="985.35" width="144.3" height="38.2" fill="none" stroke="#000" stroke-width="4.7"/>
<text font-size="63.5" transform="translate(646.1 1026.1) scale(1 1)">Benz</text>
<rect x="464" y="1064" width="149" height="42.8" fill="#000"/>
<text font-size="63.5" transform="translate(646.8 1107) scale(1 1)">Control</text>
</g>
</svg>
</body></html>
